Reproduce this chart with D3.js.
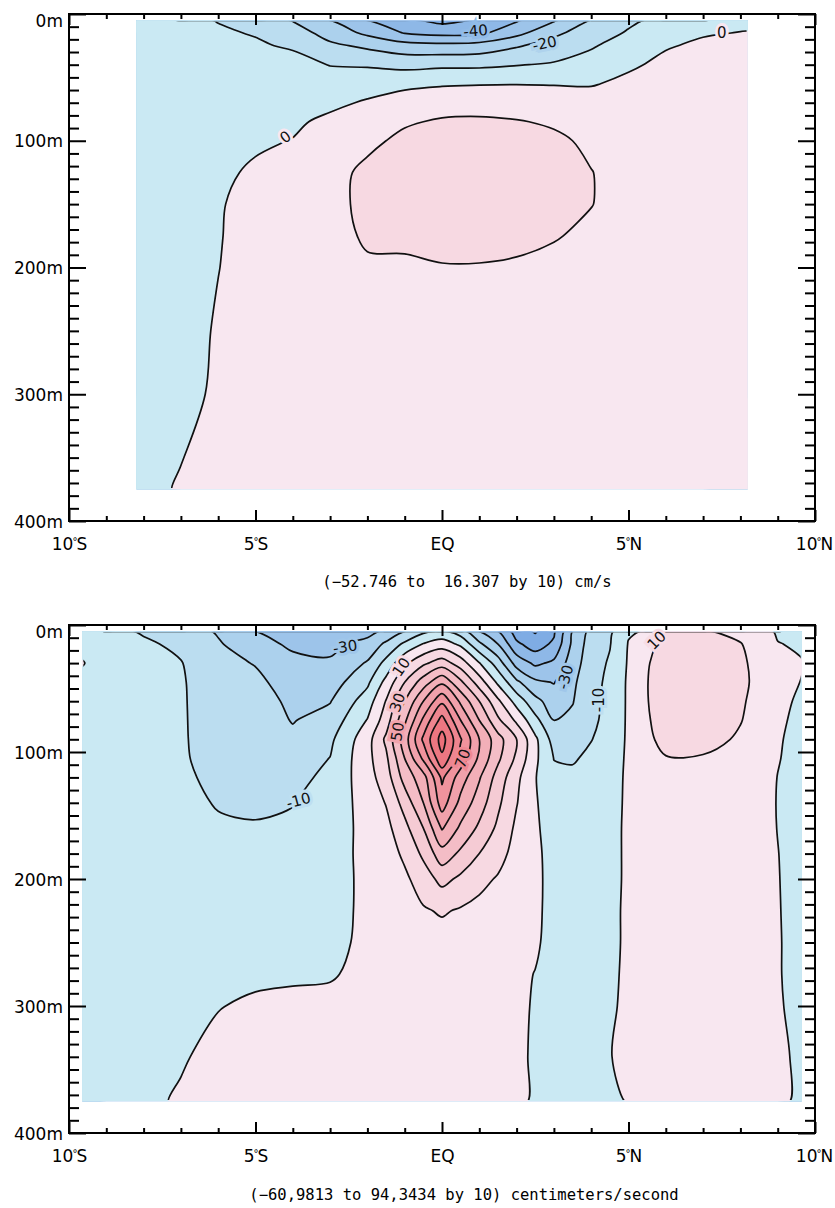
<!DOCTYPE html>
<html><head><meta charset="utf-8">
<script src="https://cdn.jsdelivr.net/npm/d3@7"></script>
<style>body{margin:0;background:#fff}svg{display:block}</style>
</head><body>
<script>
// ---------- axis labels ----------
const xTickValues = [-10, -5, 0, 5, 10];
const xTickLabels = ["10°S", "5°S", "EQ", "5°N", "10°N"];
const yTickValues = [0, 100, 200, 300, 400];
const yTickLabels = ["0m", "100m", "200m", "300m", "400m"];
const captions = ["(\u221252.746 to  16.307 by 10) cm/s",
                  "(\u221260,9813 to 94,3434 by 10) centimeters/second"];

// ---------- panel 1 data (cm/s) ----------
const p1Lats = [-8.2,-7,-6,-5,-4,-3,-2,-1,0,1,2,3,4,5,6,7,8.2];
const p1Depths = [5,15,25,40,55,70,85,100,125,150,175,200,250,300,375];
const p1Columns = [
  [-6,-5,-5,-4,-4,-4,-3,-3,-3,-3,-3,-3,-2,-2,-2],
  [-8,-7,-6,-5,-5,-4,-4,-4,-3,-3,-3,-2.5,-2,-1.5,0.5],
  [-10.3,-9,-8,-7,-6,-5,-5,-4,-2,-0.5,-0.3,-0.1,0.5,0.8,2],
  [-13,-10.5,-9,-7,-6,-5,-4,-1.5,1.5,2,2,2,2,2.5,3],
  [-20.5,-15,-11,-7,-5,-3,-1.5,0.3,3,4,4,4,3.5,3.5,3.5],
  [-30,-24,-18,-10.3,-6,-2,2,4,7,7,6,5,4,4,4],
  [-40,-32,-22,-11,-4,1,5,8,12,12.5,11.5,8.5,6,5,5],
  [-48,-40.5,-26,-13,-2,4,9,12,14,14,12,8.5,6,5,5],
  [-52.7,-43,-27,-12,-1,6,11,13.5,16,15,13,9.5,7,5,5],
  [-49,-42,-26,-12,-0.5,6,11.5,14,16.3,15.5,13,9.5,7,5,5],
  [-41,-33,-21,-10.5,-0.3,6,10.5,13,15,14,12,9,6.5,5,5],
  [-31,-22,-16,-9,-0.5,5,9,11.5,13,12.5,10.5,8,6,5,4.5],
  [-19.5,-15,-11,-6,-0.5,3,6,8.5,10.2,10.2,8.5,7,5.5,4.5,4.5],
  [-12,-9,-5.5,-1,1.5,3,4.5,6,7,7,6.5,6,5,4.5,4],
  [-7,-4,-0.5,1.5,3,4,4.5,5,5.5,5.5,5,5,4.5,4,4],
  [-4,-0.5,1,2,3,3.5,4,4,4.5,4.5,4.5,4.5,4,4,3.5],
  [-2,0.3,1,2,2.5,3,3,3.5,3.5,3.5,3.5,3.5,3.5,3,3]
];
const p1Levels = [-50,-40,-30,-20,-10,0,10];
const p1Labels = [
  {lat:0.9, depth:13, text:"-40", angle:-5, level:-40},
  {lat:2.75, depth:23, text:"-20", angle:-12, level:-20},
  {lat:7.5, depth:15, text:"0", angle:0, level:0},
  {lat:-4.2, depth:97, text:"0", angle:-35, level:0}
];

// ---------- panel 2 data (cm/s) ----------
const p2Lats = [-9.65,-9,-8,-7,-6,-5,-4,-3,-2,-1.5,-1,-0.5,0,0.5,1,1.5,2,2.5,3,3.5,4,4.5,5,5.5,6,7,8,9,9.65];
const p2Depths = [5,15,30,45,60,75,90,105,120,140,160,180,200,225,250,275,300,340,375];
const p2Columns = [
  [-4,-2,0.4,-2,-3,-3,-3,-3,-3,-3,-3,-3,-3,-3,-3,-3,-3,-2.5,-2],
  [-7,-5,-3,-4,-5,-5,-5,-5,-5,-5,-4.5,-4.5,-4,-4,-4,-3.5,-3,-2.5,-2],
  [-11,-8.5,-7,-7,-7,-7,-7,-7,-7,-6.5,-6,-5.5,-5,-4.5,-4,-3.5,-3,-2,-1.2],
  [-15,-12,-9.6,-9,-9,-9,-9,-9,-8.5,-8,-7,-6,-5,-4.5,-4,-3,-2,-0.5,0.6],
  [-21,-19,-17,-16,-15,-14.5,-14,-13,-12,-10.5,-9,-7.5,-6,-4.5,-3,-1.5,-0.2,1.5,2.5],
  [-30,-26,-20.5,-18,-16,-15,-14,-13,-12,-11,-9.5,-8,-6.5,-4.5,-3,-1,0.8,2.5,3],
  [-36,-32,-27,-24,-22,-20.5,-18,-15,-12.5,-10.3,-8.5,-7,-5.5,-3.5,-2,-0.6,1,2.5,3],
  [-35,-32,-29,-25,-20.5,-16,-12,-9.8,-8,-6,-5,-4,-3.5,-2.5,-1.5,-0.5,1.5,3,3.5],
  [-33,-27,-19,-12,-5,0.5,6,7,6,4,3,2.5,2,1.5,1.2,1.5,2.5,3.5,4],
  [-28,-18,-7,3,10.5,15,22,18,15,10.5,7,5,4,3,2.5,2.5,3,3.5,4],
  [-20,-8,8,20,30,38,45,40,34,24,17,12,8,5,4,3.5,3.5,4,4],
  [-12,0.5,18,35,50,62,72,62,46,40,30,22,15,9,6,5,4.5,4,4],
  [-8,5,25,48,68,84,94.3,88,72,65,51,36,23,11,6,5,4.5,4,4],
  [-15,-2,15,32,48,60,71,66,55,47,38,28,18,9,5,4.5,4,4,4],
  [-30,-18,0.5,15,30,40,50,48,41,35,28,20,13,7,4,3.5,3.5,3.5,3.5],
  [-40,-30,-15,-2,12,22,34,32,26,22,18,14,9,5,3,2.5,2.5,2.5,2.5],
  [-55,-48,-34,-18,-4,8,20,18,12.5,10.5,8,6,4.5,3,2,1.5,1.2,1.2,1.2],
  [-61,-55,-42,-28,-17,-7,2,2,0.5,1,1.5,2,2,1.5,1,-0.2,-0.5,-0.8,-0.8],
  [-52,-48,-38,-30.5,-25,-20,-14,-10.2,-8,-6,-4.5,-3.5,-3,-2.5,-2.5,-2.5,-2.5,-2.5,-2.5],
  [-30,-28,-25,-22,-20.5,-18,-15,-11,-8,-6,-5,-4,-3.5,-3,-3,-3,-3,-2.5,-2.5],
  [-17,-15,-14,-13,-12.5,-12,-10.3,-8,-6.5,-5.5,-5,-4.5,-4,-4,-3.5,-3,-3,-2.5,-2.5],
  [-12,-10.5,-9,-8,-7.5,-7,-6,-4.5,-3.5,-3,-2.5,-2.5,-2.5,-2,-2,-1.5,-1,-0.2,-1.2],
  [-1,0.5,1,1.5,1.5,1.5,1.5,1.5,1.5,1.5,1.5,1.5,1.5,1.5,1.5,1.5,1.5,1.5,0.3],
  [0.7,6,9,9.7,9.6,9,8,6.5,5,4,3.5,3,3,3,3,3,3,3,3],
  [10.5,14,16,16,15.5,14.5,13,9.5,8,6,5,4.5,4,4,4,4,4,4,4],
  [11,15,17,17.5,17,16,14,9,8,6,5,4.5,4.5,4.5,4.5,4.5,4.5,4.5,4.5],
  [7,10.5,12,12.5,11.5,10.5,8.5,6.5,5,4,3.5,3,3,3,3,3,3,3,3],
  [-1,0.3,1.5,2,1.5,1,0.6,0.3,-0.1,-0.2,-0.1,0.1,0.2,0.3,0.4,0.4,0.5,0.5,0.5],
  [-3,-1,0.3,-0.2,-1,-1.5,-2,-2,-2,-2,-2,-2,-2,-2,-2,-2,-1.5,-0.5,-0.5]
];
const p2Levels = [-60,-50,-40,-30,-20,-10,0,10,20,30,40,50,60,70,80,90];
const p2Labels = [
  {lat:-2.6, depth:17, text:"-30", angle:-8, level:-30},
  {lat:-1.1, depth:33, text:"10", angle:-55, level:10},
  {lat:-1.2, depth:61, text:"30", angle:-70, level:30},
  {lat:-1.2, depth:84, text:"50", angle:-80, level:50},
  {lat:0.55, depth:105, text:"70", angle:-70, level:70},
  {lat:3.3, depth:41, text:"-30", angle:-75, level:-30},
  {lat:4.2, depth:59, text:"-10", angle:-90, level:-10},
  {lat:5.75, depth:12, text:"10", angle:-45, level:10},
  {lat:-3.85, depth:138, text:"-10", angle:-15, level:-10}
];

// ---------- drawing ----------
const W = 835, H = 1208;
const svg = d3.select("body").append("svg").attr("width", W).attr("height", H);
svg.append("rect").attr("width", W).attr("height", H).attr("fill", "#fff");
const defs = svg.append("defs");

const x = d3.scaleLinear().domain([-10, 10]).range([69, 815]);
const blueRamp = d3.interpolateRgb("rgb(202,233,243)", "rgb(120,166,226)");
const pinkRamp = d3.interpolateRgb("rgb(248,231,240)", "rgb(236,112,122)");
function colorFor(v) {
  if (v < 0) return blueRamp(Math.max(0, Math.min(1, (-v - 5) / 55)));
  return pinkRamp(Math.max(0, Math.min(1, (v - 5) / 85)));
}

const FONT = "'DejaVu Sans', Verdana, sans-serif";

function drawPanel(cfg, k) {
  const y = d3.scaleLinear().domain([0, 400]).range([cfg.top, cfg.bottom]);
  const nx = cfg.lats.length, ny = cfg.depths.length;
  const grid = [];
  for (let j = 0; j < ny; j++) for (let i = 0; i < nx; i++) grid.push(cfg.columns[i][j]);
  const iLat = d3.scaleLinear().domain(d3.range(nx)).range(cfg.lats);
  const iDep = d3.scaleLinear().domain(d3.range(ny)).range(cfg.depths);
  const px = c => x(iLat(Math.max(0, Math.min(nx - 1, c - 0.5))));
  const py = c => y(iDep(Math.max(0, Math.min(ny - 1, c - 0.5))));
  const x0 = x(cfg.lats[0]), x1 = x(cfg.lats[nx - 1]);
  const y0 = y(cfg.depths[0]), y1 = y(cfg.depths[ny - 1]);

  defs.append("clipPath").attr("id", "cf" + k).append("rect")
    .attr("x", x0).attr("y", y0).attr("width", x1 - x0).attr("height", y1 - y0);
  defs.append("clipPath").attr("id", "cl" + k).append("rect")
    .attr("x", x0 + 1.3).attr("y", y0 + 1.3).attr("width", x1 - x0 - 2.6).attr("height", y1 - y0 - 2.6);

  const line = d3.line().curve(d3.curveCatmullRomClosed.alpha(0.5));
  function ringPath(ring) {
    const pts = [];
    ring.forEach(p => {
      const q = [px(p[0]), py(p[1])];
      const last = pts[pts.length - 1];
      if (!last || Math.abs(last[0] - q[0]) > 0.05 || Math.abs(last[1] - q[1]) > 0.05) pts.push(q);
    });
    if (pts.length > 1) {
      const a = pts[0], b = pts[pts.length - 1];
      if (Math.abs(a[0] - b[0]) < 0.05 && Math.abs(a[1] - b[1]) < 0.05) pts.pop();
    }
    return pts.length > 2 ? line(pts) : "";
  }
  const contours = d3.contours().size([nx, ny]).thresholds(cfg.levels)(grid);
  const lv = cfg.levels;

  const gf = svg.append("g").attr("clip-path", `url(#cf${k})`);
  gf.append("rect").attr("x", x0).attr("y", y0).attr("width", x1 - x0).attr("height", y1 - y0)
    .attr("fill", colorFor(lv[0] - 5));
  gf.selectAll("path").data(contours).join("path")
    .attr("d", c => c.coordinates.map(poly => poly.map(ringPath).join("")).join(""))
    .attr("fill-rule", "evenodd")
    .attr("fill", c => colorFor(c.value + 5));

  const gl = svg.append("g").attr("clip-path", `url(#cl${k})`);
  gl.selectAll("path").data(contours).join("path")
    .attr("d", c => c.coordinates.map(poly => poly.map(ringPath).join("")).join(""))
    .attr("fill", "none").attr("stroke", "#111").attr("stroke-width", 1.7)
    .attr("stroke-linejoin", "round");

  // contour labels
  svg.append("g").selectAll("text").data(cfg.labels).join("text")
    .attr("transform", d => `translate(${x(d.lat)},${y(d.depth)}) rotate(${d.angle})`)
    .attr("text-anchor", "middle").attr("dy", "0.36em")
    .attr("font-family", FONT).attr("font-size", 15)
    .attr("fill", "#111")
    .attr("stroke", d => colorFor(d.level + (d.level < 0 ? -3 : 3)))
    .attr("stroke-width", 6).attr("paint-order", "stroke")
    .text(d => d.text);

  // frame
  svg.append("rect").attr("x", 69).attr("y", cfg.top).attr("width", 815 - 69)
    .attr("height", cfg.bottom - cfg.top).attr("fill", "none")
    .attr("stroke", "#000").attr("stroke-width", 2);

  const minorDepth = d3.range(0, 401, 10).filter(d => d % 100 !== 0);
  const minorLat = d3.range(-10, 11, 1).filter(d => d % 5 !== 0);
  const style = g => {
    g.select(".domain").remove();
    g.selectAll("line").attr("stroke", "#000").attr("stroke-width", 2);
    g.selectAll("text").attr("font-family", FONT).attr("font-size", 17).attr("fill", "#000");
  };
  // left
  svg.append("g").attr("transform", "translate(69,0)")
    .call(d3.axisLeft(y).tickValues(minorDepth).tickSize(-10).tickFormat("")).call(style);
  svg.append("g").attr("transform", "translate(69,0)")
    .call(d3.axisLeft(y).tickValues(yTickValues).tickSize(-17).tickPadding(6)
      .tickFormat((d, i) => yTickLabels[i])).call(style)
    .selectAll("text").attr("dy", d => d === 0 ? "0.75em" : "0.36em");
  // right
  svg.append("g").attr("transform", "translate(815,0)")
    .call(d3.axisRight(y).tickValues(minorDepth).tickSize(-10).tickFormat("")).call(style);
  svg.append("g").attr("transform", "translate(815,0)")
    .call(d3.axisRight(y).tickValues(yTickValues).tickSize(-17).tickFormat("")).call(style);
  // bottom
  svg.append("g").attr("transform", `translate(0,${cfg.bottom})`)
    .call(d3.axisBottom(x).tickValues(minorLat).tickSize(-5).tickFormat("")).call(style);
  const bx = svg.append("g").attr("transform", `translate(0,${cfg.bottom})`)
    .call(d3.axisBottom(x).tickValues(xTickValues).tickSize(-11).tickPadding(17)
      .tickFormat((d, i) => xTickLabels[i])).call(style);
  // small raised degree sign, as in the reference
  bx.selectAll("text").each(function(d, i) {
    const t = d3.select(this), s = xTickLabels[i];
    const k2 = s.indexOf("°");
    if (k2 < 0) return;
    t.text(null);
    t.append("tspan").text(s.slice(0, k2));
    t.append("tspan").attr("font-size", 10).attr("dy", -5).attr("dx", -1).text("°");
    t.append("tspan").attr("dy", 5).attr("dx", -1).text(s.slice(k2 + 1));
    if (i === xTickLabels.length - 1) t.attr("dx", "-1");
  });
  // top
  svg.append("g").attr("transform", `translate(0,${cfg.top})`)
    .call(d3.axisTop(x).tickValues(minorLat).tickSize(-5).tickFormat("")).call(style);
  svg.append("g").attr("transform", `translate(0,${cfg.top})`)
    .call(d3.axisTop(x).tickValues(xTickValues).tickSize(-11).tickFormat("")).call(style);

  // caption
  svg.append("text").attr("x", cfg.capX).attr("y", cfg.capY)
    .attr("text-anchor", "middle").attr("font-family", "'DejaVu Sans Mono', monospace")
    .attr("font-size", 15.5).attr("fill", "#000").attr("xml:space", "preserve")
    .style("white-space", "pre")
    .text(cfg.caption);
}

drawPanel({lats: p1Lats, depths: p1Depths, columns: p1Columns, levels: p1Levels,
  labels: p1Labels, top: 14, bottom: 521, caption: captions[0], capX: 467, capY: 587}, 1);
drawPanel({lats: p2Lats, depths: p2Depths, columns: p2Columns, levels: p2Levels,
  labels: p2Labels, top: 625, bottom: 1133, caption: captions[1], capX: 464, capY: 1200}, 2);
</script>
</body></html>
